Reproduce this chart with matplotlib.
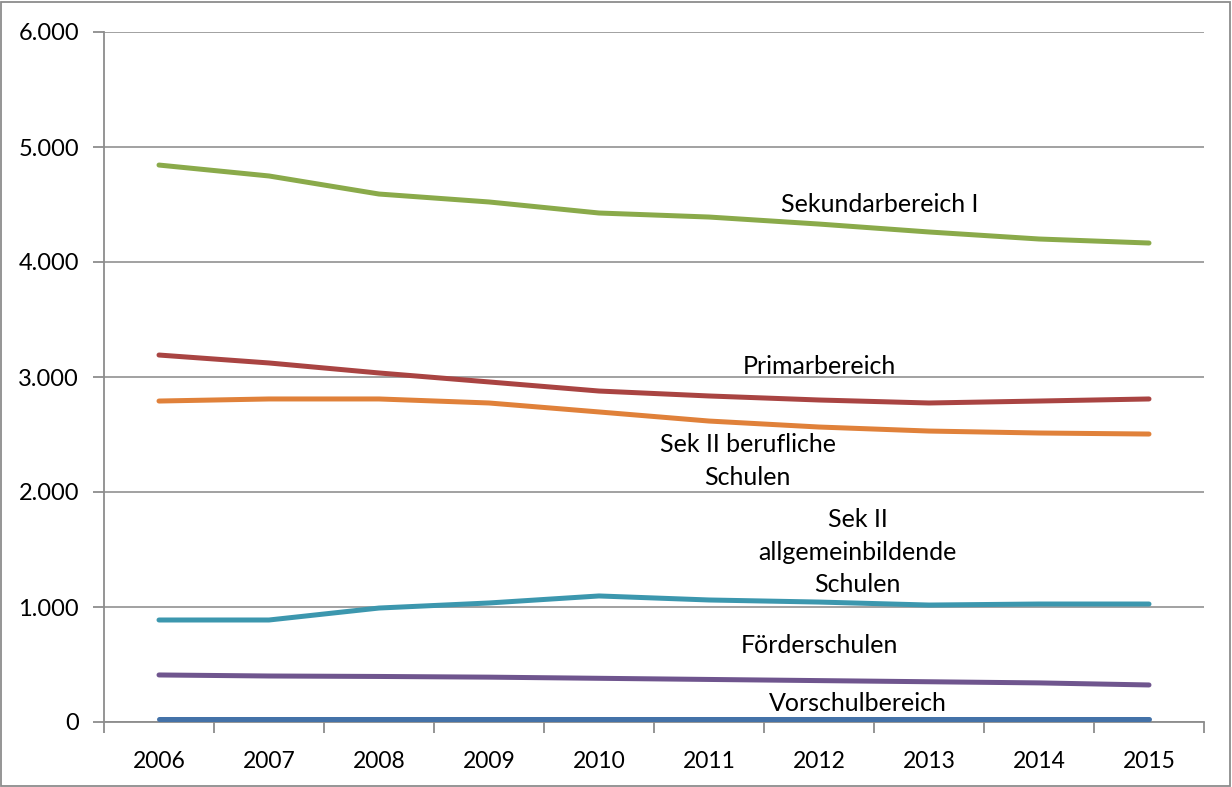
import matplotlib.pyplot as plt
from matplotlib.ticker import FuncFormatter
from matplotlib.patches import Rectangle

years = [2006, 2007, 2008, 2009, 2010, 2011, 2012, 2013, 2014, 2015]
sek1 = [4843, 4748, 4591, 4522, 4426, 4391, 4330, 4261, 4200, 4165]
primar = [3191, 3122, 3035, 2957, 2878, 2835, 2800, 2774, 2791, 2809]
sek2_beruf = [2791, 2809, 2809, 2774, 2696, 2617, 2565, 2530, 2513, 2504]
sek2_allg = [887, 887, 991, 1035, 1096, 1061, 1043, 1017, 1026, 1026]
foerder = [409, 400, 396, 390, 380, 370, 360, 350, 340, 322]
vorschul = [26, 26, 26, 26, 26, 26, 26, 26, 26, 26]

series = [
    (sek1, '#8AAA4A', 'Sekundarbereich I', (6.55, 4496)),
    (primar, '#A94442', 'Primarbereich', (6.0, 3087)),
    (sek2_beruf, '#E0813A', 'Sek II berufliche\nSchulen', (5.35, 2270)),
    (sek2_allg, '#3C97AE', 'Sek II\nallgemeinbildende\nSchulen', (6.35, 1478)),
    (foerder, '#6F558E', 'Förderschulen', (6.0, 661)),
    (vorschul, '#4472A8', 'Vorschulbereich', (6.35, 157)),
]

plt.rcParams['font.family'] = ['Lato', 'DejaVu Sans']
fig = plt.figure(figsize=(12.32, 7.87), dpi=100)
ax = fig.add_axes([104/1232, 65/787, 1100/1232, 690/787])
grey = '#8C8C8C'

xs = list(range(len(years)))
for vals, col, name, pos in series:
    ax.plot(xs, vals, color=col, lw=3.6, solid_capstyle='round', solid_joinstyle='round', zorder=3)
    ax.text(pos[0], pos[1], name, ha='center', va='center', fontsize=18,
            linespacing=1.5, zorder=4)

ax.set_xlim(-0.5, len(years) - 0.5)
ax.set_ylim(0, 6000)
ax.set_yticks(range(0, 6001, 1000))
ax.yaxis.set_major_formatter(FuncFormatter(lambda v, p: f'{int(v):,}'.replace(',', '.')))
ax.set_xticks(xs)
ax.set_xticklabels([str(y) for y in years])
ax.set_xticks([x - 0.5 for x in range(len(years) + 1)], minor=True)
ax.tick_params(axis='x', which='major', length=0, pad=21, labelsize=16.5)
ax.tick_params(axis='x', which='minor', length=8, color=grey, width=1.3)
ax.tick_params(axis='y', length=8, color=grey, width=1.3, pad=10, labelsize=17)
ax.grid(axis='y', color='#9A9A9A', lw=1.3, zorder=1)
for s in ['top', 'right']:
    ax.spines[s].set_visible(False)
for s in ['left', 'bottom']:
    ax.spines[s].set_color(grey)
    ax.spines[s].set_linewidth(1.3)

fig.patches.append(Rectangle((1/1232, 1/787), 1229/1232, 784/787, transform=fig.transFigure,
                             fill=False, edgecolor='#8C8C8C', lw=1.3))

fig.savefig('out.png', dpi=100)
